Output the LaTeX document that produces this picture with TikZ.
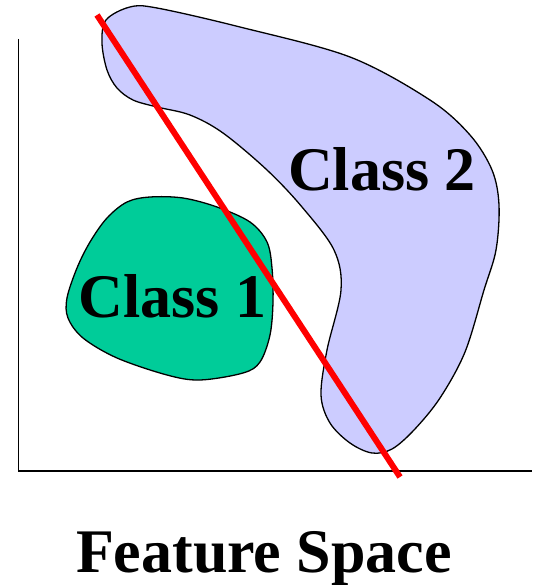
\documentclass[tikz,border=0pt]{standalone}
\usepackage{fontspec}
\setmainfont{Liberation Serif}
\definecolor{classone}{HTML}{00CC99}
\definecolor{classtwo}{HTML}{CCCCFF}
\definecolor{sepred}{HTML}{FF0000}
\tikzset{
  blob/.style={draw=black, line width=1.3pt},
  axisline/.style={draw=black, line width=1.8pt},
  sepline/.style={draw=sepred, line width=6pt},
  lbl/.style={font=\bfseries\fontsize{62}{62}\selectfont, anchor=base, inner sep=0pt}
}
\begin{document}
\begin{tikzpicture}[x=1pt,y=-1pt]
\useasboundingbox (0,0) rectangle (534,585);
% axes
\coordinate (ytop) at (18.5,39);
\coordinate (orig) at (18.5,471);
\coordinate (xend) at (532,471);
\draw[axisline] (ytop) -- (orig) -- (xend);
% class 2
\draw[blob, fill=classtwo] plot[smooth cycle, tension=0.55] coordinates {
 (102,43) (106,20) (130,7) (157,8) (240,27) (350,57)
 (430,100) (470,135) (492,170) (499,205) (496,250) (484,290) (465,352)
 (440,398) (414,430) (392,449) (372,453) (350,443) (330,423) (321,395)
 (327,350) (341,290) (334,250) (302,207) (267,170) (223,133) (190,115)
 (157,107) (133,100) (117,88) (107,70)};
% class 1
\draw[blob, fill=classone] plot[smooth cycle, tension=0.55] coordinates {
 (150,197) (183,198) (217,207) (250,222) (267,242) (272,268) (273,302)
 (270,335) (260,362) (243,373) (200,380) (167,375) (117,358) (83,338)
 (68,318) (67,298) (77,268) (90,242) (107,218) (127,202)};
% separating line
\coordinate (s1) at (97,15);
\coordinate (s2) at (400,477);
\draw[sepline] (s1) -- (s2);
% labels
\node[lbl] (c1) at (172.5,317) {Class 1};
\node[lbl] (c2) at (382,190) {Class 2};
\node[lbl] (fs) at (264,572) {Feature Space};
\end{tikzpicture}
\end{document}
